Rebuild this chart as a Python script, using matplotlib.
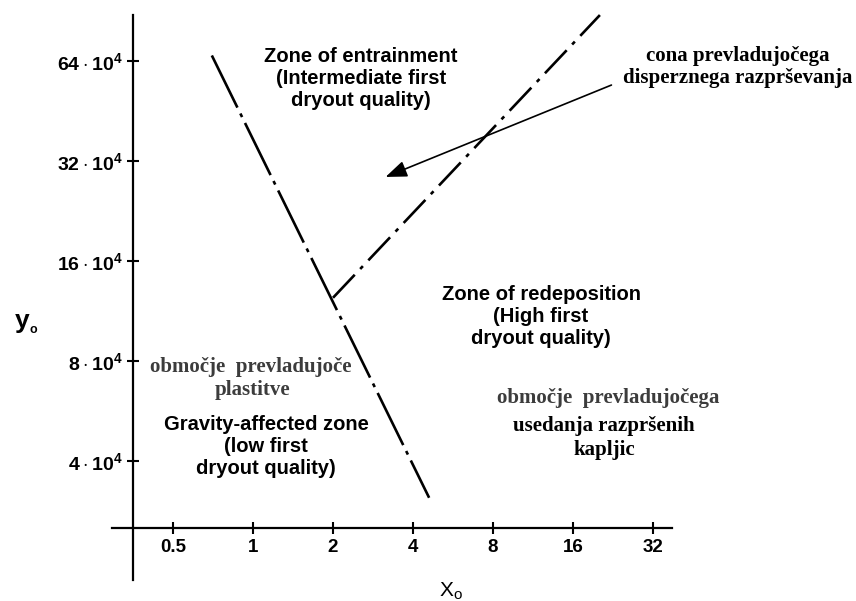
import matplotlib
matplotlib.use("Agg")
import matplotlib.pyplot as plt

plt.rcParams['font.family'] = ['Liberation Sans', 'DejaVu Sans']
plt.rcParams['mathtext.fontset'] = 'custom'
plt.rcParams['mathtext.rm'] = 'Liberation Sans'
plt.rcParams['mathtext.bf'] = 'Liberation Sans:bold'

# data
x_ticks = [0.5, 1, 2, 4, 8, 16, 32]
x_tick_labels = ['0.5', '1', '2', '4', '8', '16', '32']
y_ticks = [4e4, 8e4, 16e4, 32e4, 64e4]
y_tick_labels = [r'$\mathbf{4\cdot10^{4}}$', r'$\mathbf{8\cdot10^{4}}$', r'$\mathbf{16\cdot10^{4}}$',
                 r'$\mathbf{32\cdot10^{4}}$', r'$\mathbf{64\cdot10^{4}}$']

# gravity / redeposition boundary
bound1_x = [0.70, 4.6]
bound1_y = [66.5e4, 3.1e4]
# entrainment boundary
bound2_x = [2.0, 20.2]
bound2_y = [12.4e4, 88e4]

W, H = 856, 601
fig = plt.figure(figsize=(W / 100, H / 100), dpi=100)
ax = fig.add_axes([0, 0, 1, 1])
ax.set_xscale('log', base=2)
ax.set_yscale('log', base=2)
ax.set_xlim(2 ** -3.1625, 2 ** 7.5375)
ax.set_ylim(1e4 * 2 ** 0.6, 1e4 * 2 ** 6.61)


def fx(px):
    return px / W


def fy(py):
    return 1 - py / H


# axis lines through the data
for s in ['top', 'right']:
    ax.spines[s].set_visible(False)
ax.spines['left'].set_position(('data', 0.354))
ax.spines['left'].set_bounds(1.75e4, 88e4)
ax.spines['bottom'].set_position(('data', 2.51e4))
ax.spines['bottom'].set_bounds(0.295, 37.7)
for s in ['left', 'bottom']:
    ax.spines[s].set_linewidth(1.6)

ax.set_xticks(x_ticks)
ax.set_xticklabels(x_tick_labels, fontsize=13.5, fontweight='bold')
ax.set_yticks(y_ticks)
ax.set_yticklabels(y_tick_labels, fontsize=14)
ax.minorticks_off()
ax.tick_params(direction='inout', length=9, width=1.5, pad=3)

ax.plot(bound1_x, bound1_y, color='black', lw=1.9, linestyle=(0, (22, 2.5, 1.5, 2.5)))
ax.plot(bound2_x, bound2_y, color='black', lw=1.9, linestyle=(0, (12, 3, 1.5, 3)))

# arrow pointing into the entrainment zone
ax.annotate('', xy=(fx(383), fy(178)), xycoords='figure fraction',
            xytext=(fx(614), fy(84)), textcoords='figure fraction',
            arrowprops=dict(arrowstyle='-|>,head_length=1.3,head_width=0.5', lw=1.2, color='black'))

sans = dict(ha='center', va='center', fontsize=14.5, fontweight='bold', linespacing=1.2)
serif = dict(ha='center', va='center', fontsize=15, fontweight='bold', family='Liberation Serif',
             linespacing=1.2)
grey = '#3c3c3c'

fig.text(fx(361), fy(78), 'Zone of entrainment\n(Intermediate first\ndryout quality)', **sans)
fig.text(fx(541), fy(317), 'Zone of redeposition\n(High first\ndryout quality)', **sans)
fig.text(fx(266), fy(447), 'Gravity-affected zone\n(low first\ndryout quality)', **sans)

fig.text(fx(738), fy(67), 'cona prevladujočega\ndisperznega razprševanja', color='black', **serif)
fig.text(fx(251), fy(367), 'območje  prevladujoče', color=grey, **serif)
fig.text(fx(252), fy(390), 'plastitve', color=grey, **serif)
fig.text(fx(608), fy(398), 'območje  prevladujočega', color=grey, **serif)
fig.text(fx(604), fy(438), 'usedanja razpršenih\nkapljic', color='black', **serif)

# axis names
fig.text(fx(22), fy(321), 'y', fontsize=19, fontweight='bold', ha='center', va='center')
fig.text(fx(33), fy(330), 'o', fontsize=9, fontweight='bold', ha='center', va='center')
fig.text(fx(446), fy(591), 'X', fontsize=15, ha='center', va='center')
fig.text(fx(458), fy(595), 'o', fontsize=11, ha='center', va='center')

fig.savefig('out.png', dpi=100, facecolor='white')
